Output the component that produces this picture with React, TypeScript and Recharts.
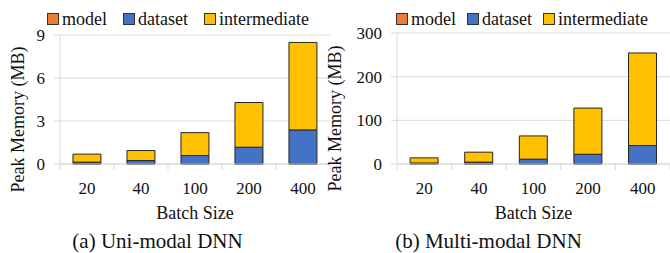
import React from 'react';
import { BarChart, Bar, XAxis, YAxis, CartesianGrid, Legend } from 'recharts';

const batchSizes = ['20', '40', '100', '200', '400'];

const uniModel = [0.01, 0.01, 0.01, 0.01, 0.01];
const uniDataset = [0.12, 0.23, 0.58, 1.16, 2.37];
const uniIntermediate = [0.56, 0.7, 1.6, 3.12, 6.1];
const uniTicks = [0, 3, 6, 9];

const multiModel = [0.3, 0.3, 0.3, 0.3, 0.3];
const multiDataset = [2, 4, 10.7, 22, 42];
const multiIntermediate = [11.8, 22.8, 53.3, 105.8, 212];
const multiTicks = [0, 100, 200, 300];

const seriesNames = ['model', 'dataset', 'intermediate'];
const seriesColors = ['#ED7D31', '#4472C4', '#FFC000'];

const FONT = 'Liberation Serif';
const GRID = '#d9d9d9';
const TEXT = '#111';
const X_TICK_SIZE = 6;
const X_TICK_MARGIN = 12;

function build(model: number[], dataset: number[], inter: number[]) {
  return batchSizes.map((b, i) => ({
    batch: b,
    model: model[i],
    dataset: dataset[i],
    intermediate: inter[i],
  }));
}

const uniData = build(uniModel, uniDataset, uniIntermediate);
const multiData = build(multiModel, multiDataset, multiIntermediate);

const XTick = (props: any) => {
  const { x, y, payload, index, visibleTicksCount } = props;
  const off = payload && payload.offset ? payload.offset : 27;
  const axisY = y - X_TICK_SIZE - X_TICK_MARGIN;
  const isLast = index === (visibleTicksCount ?? 5) - 1;
  return (
    <g>
      <line x1={x - off} x2={x - off} y1={axisY} y2={axisY + X_TICK_SIZE} stroke={GRID} />
      {isLast && (
        <line x1={x + off} x2={x + off} y1={axisY} y2={axisY + X_TICK_SIZE} stroke={GRID} />
      )}
      <text x={x} y={y} dy="0.71em" textAnchor="middle" style={{ fontFamily: FONT, fontSize: 17 }} fill={TEXT}>
        {payload.value}
      </text>
    </g>
  );
};

const YTick = (props: any) => {
  const { x, y, payload } = props;
  return (
    <text x={x} y={y} dy="0.355em" textAnchor="end" style={{ fontFamily: FONT, fontSize: 17 }} fill={TEXT}>
      {payload.value}
    </text>
  );
};

const YLabel = (props: any) => {
  const { viewBox, labelX } = props;
  const cy = viewBox.y + viewBox.height / 2 + 20;
  const x = labelX;
  return (
    <text
      x={x}
      y={cy}
      dy="0.35em"
      textAnchor="middle"
      transform={`rotate(-90, ${x}, ${cy})`}
      style={{ fontFamily: FONT, fontSize: 18 }}
      fill={TEXT}
    >
      Peak Memory (MB)
    </text>
  );
};

const XLabel = (props: any) => {
  const { viewBox } = props;
  const cx = viewBox.x + viewBox.width / 2;
  const by = viewBox.y + viewBox.height - 6;
  return (
    <text x={cx} y={by} textAnchor="middle" style={{ fontFamily: FONT, fontSize: 18 }} fill={TEXT}>
      Batch Size
    </text>
  );
};

const LegendContent = (props: any) => {
  const { gap } = props;
  return (
    <div style={{ display: 'flex', flexDirection: 'row', alignItems: 'center', fontFamily: FONT, fontSize: 18, lineHeight: '18px', color: TEXT, whiteSpace: 'nowrap' }}>
      {seriesNames.map((n, i) => (
        <div key={n} style={{ display: 'flex', alignItems: 'center', marginRight: i < seriesNames.length - 1 ? gap : 0 }}>
          <div style={{ width: 10, height: 10, background: seriesColors[i], border: '1px solid #333', marginRight: 3 }} />
          <span>{n}</span>
        </div>
      ))}
    </div>
  );
};

const Panel = (props: any) => {
  const { data, ticks, domain, width, top, yWidth, right, labelX, legendLeft, legendGap } = props;
  return (
    <BarChart
      width={width}
      height={225}
      data={data}
      margin={{ top, right, bottom: 0, left: 0 }}
      barCategoryGap="24%"
      style={{ fontFamily: FONT }}
    >
      <CartesianGrid vertical={false} stroke={GRID} />
      <XAxis
        dataKey="batch"
        height={61}
        axisLine={{ stroke: GRID }}
        tickLine={false}
        tickSize={X_TICK_SIZE}
        tickMargin={X_TICK_MARGIN}
        tick={<XTick />}
        interval={0}
        label={<XLabel />}
      />
      <YAxis
        width={yWidth}
        domain={domain}
        ticks={ticks}
        interval={0}
        axisLine={{ stroke: GRID }}
        tickLine={{ stroke: GRID }}
        tickSize={6}
        tickMargin={9}
        tick={<YTick />}
        label={<YLabel labelX={labelX} />}
      />
      <Legend
        verticalAlign="middle"
        align="center"
        layout="horizontal"
        wrapperStyle={{ top: 10, left: legendLeft, width: 'auto' }}
        content={<LegendContent gap={legendGap} />}
      />
      {seriesNames.map((n, i) => (
        <Bar key={n} dataKey={n} stackId="a" fill={seriesColors[i]} stroke="#262626" strokeWidth={1} isAnimationActive={false} />
      ))}
    </BarChart>
  );
};

export default function App() {
  return (
    <div style={{ position: 'absolute', left: 0, top: 0, width: 670, height: 253, background: '#fff', overflow: 'hidden', fontFamily: FONT }}>
      <div style={{ position: 'absolute', left: 0, top: 0 }}>
        <Panel data={uniData} ticks={uniTicks} domain={[0, 9]} width={340} top={35} yWidth={60} right={10} labelX={18} legendLeft={47} legendGap={16} />
      </div>
      <div style={{ position: 'absolute', left: 325, top: 0 }}>
        <Panel data={multiData} ticks={multiTicks} domain={[0, 300]} width={345} top={33} yWidth={72} right={0} labelX={10} legendLeft={71} legendGap={11} />
      </div>
      <svg width={670} height={253} style={{ position: 'absolute', left: 0, top: 0, pointerEvents: 'none' }}>
        <text x={157.5} y={248} textAnchor="middle" style={{ fontFamily: FONT, fontSize: 21 }} fill={TEXT}>(a) Uni-modal DNN</text>
        <text x={488.5} y={248} textAnchor="middle" style={{ fontFamily: FONT, fontSize: 21 }} fill={TEXT}>(b) Multi-modal DNN</text>
      </svg>
    </div>
  );
}
